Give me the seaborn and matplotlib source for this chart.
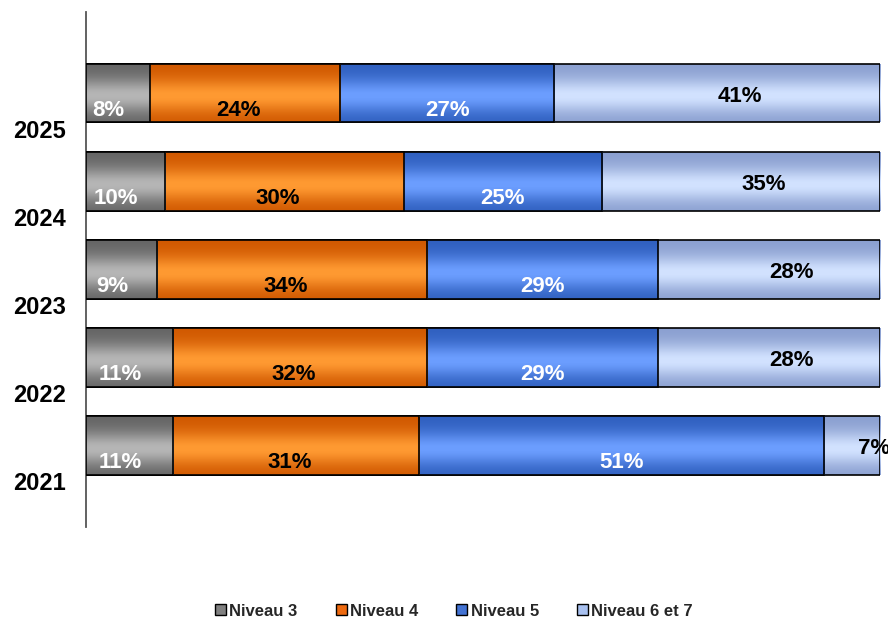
import numpy as np
import pandas as pd
import seaborn as sns
import matplotlib.pyplot as plt
from matplotlib.colors import LinearSegmentedColormap
from matplotlib.patches import Patch

years = ['2025', '2024', '2023', '2022', '2021']
series = ['Niveau 3', 'Niveau 4', 'Niveau 5', 'Niveau 6 et 7']
niveau3 = [8, 10, 9, 11, 11]
niveau4 = [24, 30, 34, 32, 31]
niveau5 = [27, 25, 29, 29, 51]
niveau67 = [41, 35, 28, 28, 7]

flat_colors = ['#808080', '#ee6a10', '#4373d3', '#a9c1f0']
grad_colors = [
    ('#646464', '#b6b6b6'),
    ('#d05800', '#ff9a32'),
    ('#2f5fbf', '#6c9eff'),
    ('#8a9fd0', '#d2e2ff'),
]
text_colors = ['white', 'black', 'white', 'black']
label_dx = [-1.2, -0.8, 0.0, 2.8]
label_dy = [0.2, 0.2, 0.2, 0.04]

sns.set_style('white')
plt.rcParams['font.family'] = ['Liberation Sans', 'DejaVu Sans']

df = pd.DataFrame({'year': years, 'Niveau 3': niveau3, 'Niveau 4': niveau4,
                   'Niveau 5': niveau5, 'Niveau 6 et 7': niveau67})
vals = df[series].to_numpy(dtype=float)
cum = np.cumsum(vals, axis=1)

fig = plt.figure(figsize=(8.88, 6.19), dpi=100)
ax = fig.add_axes([86 / 888, 1 - 527 / 619, (880 - 86) / 888, (527 - 12) / 619])

# draw cumulative bars, widest first, so narrower ones sit on top
grad = np.linspace(0, 1, 200)
profile = np.exp(-((grad - 0.55) / 0.28) ** 2)
for k in range(3, -1, -1):
    sns.barplot(x=cum[:, k], y=df['year'], orient='h', color=flat_colors[k],
                edgecolor='black', linewidth=1.2, width=0.67, ax=ax)
    cmap = LinearSegmentedColormap.from_list('g%d' % k, list(grad_colors[k]))
    for p in ax.containers[-1].patches:
        x0, y0 = p.get_x(), p.get_y()
        w, h = p.get_width(), p.get_height()
        z = 2 + (3 - k) * 2
        im = ax.imshow(profile[:, None], extent=[x0, x0 + w, y0 + h, y0],
                       aspect='auto', cmap=cmap, vmin=0, vmax=1, zorder=z,
                       interpolation='bilinear')
        im.set_clip_path(p)
        p.set_facecolor('none')
        p.set_zorder(z + 0.5)

# percent labels
for i in range(len(years)):
    left = 0
    for k in range(4):
        v = vals[i, k]
        cx = left + v / 2 + label_dx[k]
        ax.text(cx, i + label_dy[k], '%d%%' % v, ha='center', va='center',
                fontsize=16, fontweight='bold', color=text_colors[k], zorder=20)
        left += v

ax.set_xlim(0, 100)
ax.set_ylim(4.93, -0.92)
ax.set_xlabel('')
ax.set_ylabel('')
ax.set_xticks([])
ax.set_yticks([])
for s in ['top', 'right', 'bottom']:
    ax.spines[s].set_visible(False)
ax.spines['left'].set_color('#555555')
ax.spines['left'].set_linewidth(1.3)

# year labels sit slightly below each bar
for i, yr in enumerate(years):
    ax.text(-2.5, i + 0.44, yr, ha='right', va='center', fontsize=17,
            fontweight='bold', color='black', clip_on=False)

handles = [Patch(facecolor=c, edgecolor='black', linewidth=1.0) for c in flat_colors]
fig.legend(handles, series, loc='center', bbox_to_anchor=(454 / 888, 1 - 611 / 619),
           ncol=4, frameon=False, handlelength=0.65, handleheight=0.65,
           handletextpad=0.2, columnspacing=2.3,
           prop={'weight': 'bold', 'size': 12})

fig.savefig('out.png', dpi=100)
